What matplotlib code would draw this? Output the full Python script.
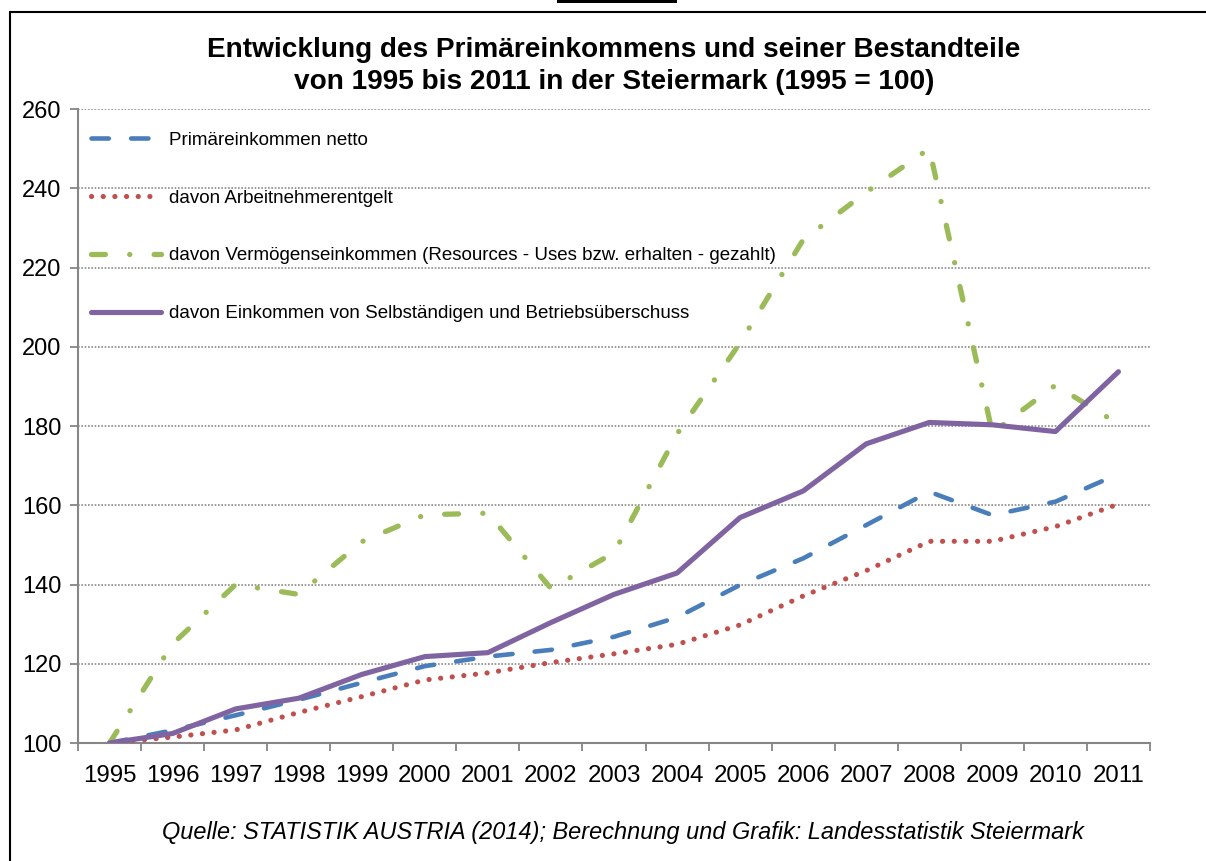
import matplotlib
matplotlib.use("Agg")
import matplotlib.pyplot as plt
from matplotlib.patches import Rectangle

plt.rcParams['font.family'] = ['Liberation Sans', 'DejaVu Sans']
plt.rcParams['lines.scale_dashes'] = False

# data (1995 = 100)
jahre = ['1995', '1996', '1997', '1998', '1999', '2000', '2001', '2002', '2003',
         '2004', '2005', '2006', '2007', '2008', '2009', '2010', '2011']
primaer_netto = [100, 103.2, 107, 110.9, 115.2, 119.4, 121.8, 123.5, 126.8,
                 131.7, 139.9, 146.6, 155, 163.4, 157.5, 160.9, 167.9]
arbeitnehmer = [100, 101.5, 103.3, 107.7, 111.7, 115.9, 117.7, 120.3, 122.5,
                124.9, 129.8, 137.1, 143.5, 150.9, 150.9, 154.6, 160.3]
vermoegen = [100, 125, 140, 137.5, 150.8, 157.6, 158, 139, 148,
             178, 201, 227, 239, 250, 178.3, 190.3, 180.5]
selbststaendig = [100, 102.4, 108.6, 111.3, 117.3, 121.8, 122.8, 130.4, 137.5,
                  142.9, 156.9, 163.6, 175.5, 180.9, 180.3, 178.6, 193.7]

labels = ['Primäreinkommen netto',
          'davon Arbeitnehmerentgelt',
          'davon Vermögenseinkommen (Resources - Uses bzw. erhalten - gezahlt)',
          'davon Einkommen von Selbständigen und Betriebsüberschuss']

fig = plt.figure(figsize=(12.06, 8.61), dpi=100)
ax = fig.add_axes([78 / 1206, 1 - 743 / 861, (1150 - 78) / 1206, (743 - 109) / 861])

x = list(range(len(jahre)))
ax.plot(x, primaer_netto, color='#4A7EBB', lw=3.3, ls=(0, (12.5, 16)),
        dash_capstyle='round', label=labels[0], zorder=3)
ax.plot(x, arbeitnehmer, color='#C0504D', lw=3.7, ls=(0, (0.1, 8.3)),
        dash_capstyle='round', label=labels[1], zorder=3)
ax.plot(x, vermoegen, color='#9BBB59', lw=3.8, ls=(0, (10, 17.5, 0.1, 17.5)),
        dash_capstyle='round', label=labels[2], zorder=3)
ax.plot(x, selbststaendig, color='#8064A2', lw=3.7, solid_capstyle='round',
        label=labels[3], zorder=4)

ax.set_xlim(-0.5, len(jahre) - 0.5)
ax.set_ylim(100, 260)
ax.set_yticks(range(100, 261, 20))
ax.set_xticks([i - 0.5 for i in range(len(jahre) + 1)])
ax.set_xticklabels([])
ax.set_xticks(x, minor=True)
ax.set_xticklabels(jahre, minor=True)
ax.tick_params(axis='x', which='minor', length=0, pad=16, labelsize=17.3)
ax.tick_params(axis='x', which='major', length=6, width=1.3, color='#868686')
ax.tick_params(axis='y', length=6, width=1.3, color='#868686', labelsize=17, pad=6)

for yv in range(120, 261, 20):
    ax.axhline(yv, color='#8a8a8a', lw=1.2, ls=(0, (1.2, 1.2)), zorder=1)

for s in ['top', 'right']:
    ax.spines[s].set_visible(False)
for s in ['left', 'bottom']:
    ax.spines[s].set_color('#868686')
    ax.spines[s].set_linewidth(1.5)

ax.legend(loc='upper left', bbox_to_anchor=(0.0, 0.985), frameon=False,
          fontsize=13.5, labelspacing=2.17, handlelength=3.75, handletextpad=0.42,
          borderaxespad=0.3)

fig.text(614 / 1206, 1 - 66 / 861,
         'Entwicklung des Primäreinkommens und seiner Bestandteile\n'
         'von 1995 bis 2011 in der Steiermark (1995 = 100)',
         ha='center', va='center', fontsize=20.2, fontweight='bold', linespacing=1.3)
fig.text(623 / 1206, 1 - 833 / 861,
         'Quelle: STATISTIK AUSTRIA (2014); Berechnung und Grafik: Landesstatistik Steiermark',
         ha='center', va='center', fontsize=16.9, style='italic')

# outer frame and top bar
fig.add_artist(Rectangle((10 / 1206, -0.1), 1.2, 1.1 - 12 / 861,
                         transform=fig.transFigure, fill=False, lw=1.5, ec='black'))
fig.add_artist(Rectangle((557 / 1206, 1 - 3 / 861), 120 / 1206, 3 / 861,
                         transform=fig.transFigure, fc='black', ec='none'))

fig.savefig('out.png', dpi=100)
